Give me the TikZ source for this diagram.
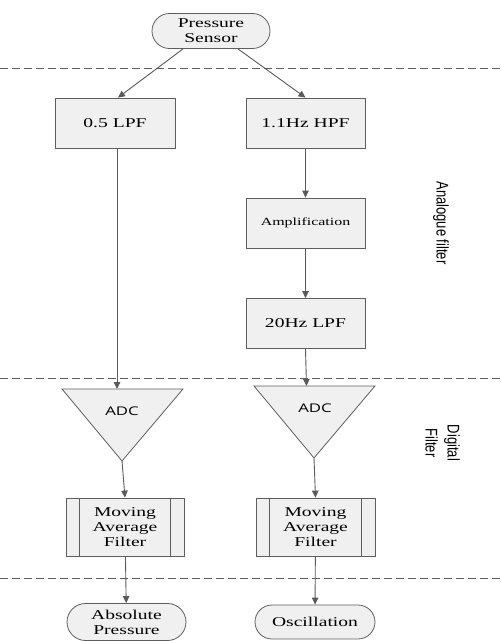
\documentclass[tikz,border=0pt]{standalone}
\usepackage{fontspec}
\setmainfont{Liberation Serif}[FakeStretch=1.45]
\newfontfamily\adcfont{Open Sans}[FakeStretch=1.4]
\newfontfamily\sidefont{Liberation Sans}
\usetikzlibrary{arrows.meta,shapes.misc}
\definecolor{boxfill}{HTML}{F0F0F0}
\definecolor{boxdraw}{HTML}{5E5E5E}
\definecolor{linecol}{HTML}{5A5A5A}
\begin{document}
\begin{tikzpicture}[x=1pt,y=-1pt,
  box/.style={draw=boxdraw, fill=boxfill, line width=0.8pt, minimum width=119pt,
    minimum height=50pt, inner sep=0pt, align=center,
    font=\fontsize{13.5}{15}\selectfont},
  term/.style={box, rounded rectangle, minimum height=35pt},
  mafbox/.style={box, minimum height=58pt,
    path picture={\draw[boxdraw, line width=0.8pt]
      ([xshift=13pt]path picture bounding box.north west) -- ([xshift=13pt]path picture bounding box.south west)
      ([xshift=-14pt]path picture bounding box.north east) -- ([xshift=-14pt]path picture bounding box.south east);}},
  arr/.style={draw=linecol, line width=0.9pt, -{Triangle[length=7pt,width=6.5pt]}},
  sepline/.style={draw=boxdraw, line width=0.8pt, dash pattern=on 8pt off 4pt},
  adcshape/.style={draw=boxdraw, fill=boxfill, line width=0.8pt, line join=miter},
  adctext/.style={font=\adcfont\fontsize{12}{14}\selectfont, inner sep=0pt},
  side/.style={rotate=-90, inner sep=0pt, align=center, font=\sidefont\fontsize{13}{17}\selectfont}
]
\useasboundingbox (0,0) rectangle (501,641);

% separators
\draw[sepline] (0,68) -- (501,68);
\draw[sepline] (0,378) -- (501,378);
\draw[sepline] (0,578) -- (501,578);

% nodes
\node[term, minimum width=118pt] (ps) at (211,31) {Pressure\\Sensor};
\node[box, minimum width=120pt] (lpf05) at (115,123) {0.5 LPF};
\node[box] (hpf) at (305.5,123) {1.1Hz HPF};
\node[box, font=\fontsize{11}{13}\selectfont] (amp) at (305.5,223) {Amplification};
\node[box] (lpf20) at (305.5,323.5) {20Hz LPF};

\draw[adcshape] (62,389) -- (183,389) -- (122,461) -- cycle;
\node[adctext] (adcL) at (122,411) {ADC};
\coordinate (adcLin) at (117,389);
\coordinate (adcLout) at (122,461);

\draw[adcshape] (254,386) -- (375,386) -- (314,458) -- cycle;
\node[adctext] (adcR) at (315,408) {ADC};
\coordinate (adcRin) at (306.5,386);
\coordinate (adcRout) at (314,458);

\node[mafbox, minimum width=118pt] (mafL) at (125,527) {Moving\\Average\\Filter};
\node[mafbox] (mafR) at (315.5,527) {Moving\\Average\\Filter};

\node[term, minimum width=119pt, minimum height=37pt] (absp) at (126.5,622) {Absolute\\Pressure};
\node[term, minimum width=120pt, minimum height=34pt] (osc) at (315,622) {Oscillation};

% side labels
\node[side] (lab1) at (441,223) {\scalebox{1}[1.3]{Analogue filter}};
\node[side] (lab2) at (441,443) {\scalebox{1}[1.3]{\begin{tabular}{@{}c@{}}Digital\\Filter\end{tabular}}};

% connectors
\draw[arr] ([xshift=-28pt]ps.south) -- ([xshift=3pt]lpf05.north);
\draw[arr] ([xshift=27pt]ps.south) -- (hpf.north);
\draw[arr] (lpf05.south -| adcLin) -- (adcLin);
\draw[arr] (hpf) -- (amp);
\draw[arr] (amp) -- (lpf20);
\draw[arr] (lpf20.south) -- (adcRin);
\draw[arr] (adcLout) -- (mafL.north);
\draw[arr] (adcRout) -- (mafR.north);
\draw[arr] (mafL) -- (absp);
\draw[arr] (mafR) -- (osc);
\end{tikzpicture}
\end{document}
